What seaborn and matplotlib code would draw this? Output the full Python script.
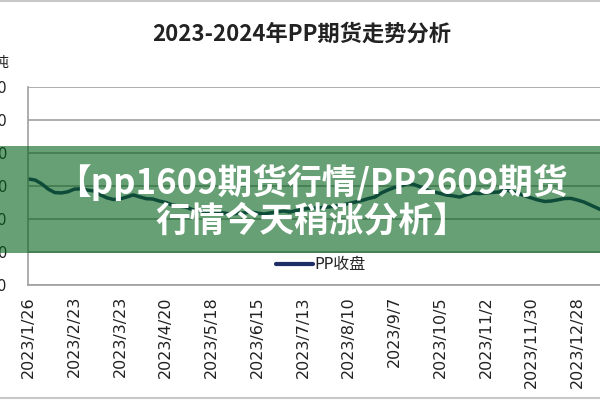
import matplotlib
matplotlib.use("Agg")
import matplotlib.pyplot as plt
from matplotlib.lines import Line2D
from matplotlib.patches import Rectangle
import seaborn as sns
import pandas as pd

# ---- data ----
start_date = "2023-01-26"
step_days = 4
pp_close = [8212, 8180, 8065, 7905, 7800, 7790, 7825, 7905, 7915, 7875,
            7850, 7730, 7640, 7590, 7610, 7665, 7730, 7670, 7615, 7605,
            7545, 7500, 7425, 7390, 7365, 7290, 7240, 7210, 7245, 7205,
            7180, 7150, 7170, 7185, 7215, 7180, 7150, 7185, 7215, 7245,
            7210, 7260, 7300, 7320, 7330, 7350, 7365, 7395, 7425, 7470,
            7515, 7560, 7620, 7665, 7790, 7880, 7955, 8000, 8075, 8045,
            7970, 7880, 7820, 7775, 7725, 7700, 7665, 7730, 7785, 7770,
            7790, 7805, 7820, 7880, 7835, 7770, 7700, 7635, 7575, 7530,
            7545, 7580, 7620, 7625, 7575, 7515, 7425, 7335, 7240]
tick_dates = ["2023-01-26", "2023-02-23", "2023-03-23", "2023-04-20", "2023-05-18",
              "2023-06-15", "2023-07-13", "2023-08-10", "2023-09-07", "2023-10-05",
              "2023-11-02", "2023-11-30", "2023-12-28"]
tick_labels = ["2023/1/26", "2023/2/23", "2023/3/23", "2023/4/20", "2023/5/18",
               "2023/6/15", "2023/7/13", "2023/8/10", "2023/9/7", "2023/10/5",
               "2023/11/2", "2023/11/30", "2023/12/28"]
y_ticks = [5000, 6000, 7000, 8000, 9000, 10000, 11000]
series_name = "PP收盘"
title = "2023-2024年PP期货走势分析"
unit = "元/吨"
banner = "【pp1609期货行情/PP2609期货\n行情今天稍涨分析】"

dates = pd.date_range(start_date, periods=len(pp_close), freq=f"{step_days}D")
df = pd.DataFrame({"date": dates, "value": pp_close})

sns.set_style("white")
plt.rcParams["font.family"] = ["DejaVu Sans", "Noto Sans CJK SC"]

W, H = 600, 400
fig = plt.figure(figsize=(6, 4), dpi=100)
fig.patch.set_facecolor("white")

px_per_day = 1.633
left_px, right_px, top_px, bot_px = 28, 618, 87, 285
ax = fig.add_axes([left_px / W, 1 - bot_px / H, (right_px - left_px) / W, (bot_px - top_px) / H])

sns.lineplot(data=df, x="date", y="value", ax=ax, color="#1f2d66", lw=2.5,
             label=series_name, legend=False)

d0 = pd.Timestamp(start_date) - pd.Timedelta(hours=10)
ax.set_xlim(d0, d0 + pd.Timedelta(days=(right_px - left_px) / px_per_day))
ax.set_ylim(y_ticks[0], y_ticks[-1])
ax.set_yticks(y_ticks)
ax.set_yticklabels([str(v) for v in y_ticks], fontsize=10.5, color="#222222")
ax.set_xticks(pd.to_datetime(tick_dates))
ax.set_xticklabels(tick_labels, rotation=90, fontsize=11.5, color="#222222")
ax.set_xlabel("")
ax.set_ylabel("")

ax.grid(axis="y", color="#a0a0a0", lw=1.2)
ax.grid(axis="x", visible=False)
for s in ["top", "right"]:
    ax.spines[s].set_visible(False)
for s in ["left", "bottom"]:
    ax.spines[s].set_color("#a0a0a0")
    ax.spines[s].set_linewidth(1.2)
ax.tick_params(axis="x", direction="out", length=5, width=1, color="#a0a0a0", pad=3)
ax.tick_params(axis="y", direction="out", length=5, width=1, color="#a0a0a0", pad=10)

# legend
handles = [Line2D([0], [0], color="#1f2d66", lw=3)]
fig.legend(handles, [series_name], loc="center", bbox_to_anchor=(321 / W, 1 - 265 / H),
           frameon=False, handlelength=2.3, handletextpad=0.1,
           prop={"family": ["DejaVu Sans", "Noto Sans CJK SC"], "size": 11.5})

# title and unit
fig.text(302 / W, 1 - 34 / H, title, ha="center", va="center", fontsize=16,
         fontweight="bold", family=["Noto Sans CJK SC"], color="#222222")
fig.text(9 / W, 1 - 62 / H, unit, ha="right", va="center", fontsize=10.5,
         family=["Noto Sans CJK SC"], color="#222222")

# green overlay banner
fig.add_artist(Rectangle((0, 1 - 253 / H), 1, (253 - 146) / H, transform=fig.transFigure,
                         facecolor="#03611b", alpha=0.6, edgecolor="none", zorder=5))
fig.text(312 / W, 1 - 201 / H, banner, ha="center", va="center", fontsize=25,
         fontweight="heavy", family=["Noto Sans CJK SC"], color="white",
         linespacing=1.08, zorder=6)

# thin border lines at top and bottom
fig.add_artist(Line2D([0, 1], [1 - 1 / H, 1 - 1 / H], transform=fig.transFigure, color="#c8c8c8", lw=1.5))
fig.add_artist(Line2D([0, 1], [1 - 398 / H, 1 - 398 / H], transform=fig.transFigure, color="#c8c8c8", lw=1.5))

fig.savefig("out.png", dpi=100)
